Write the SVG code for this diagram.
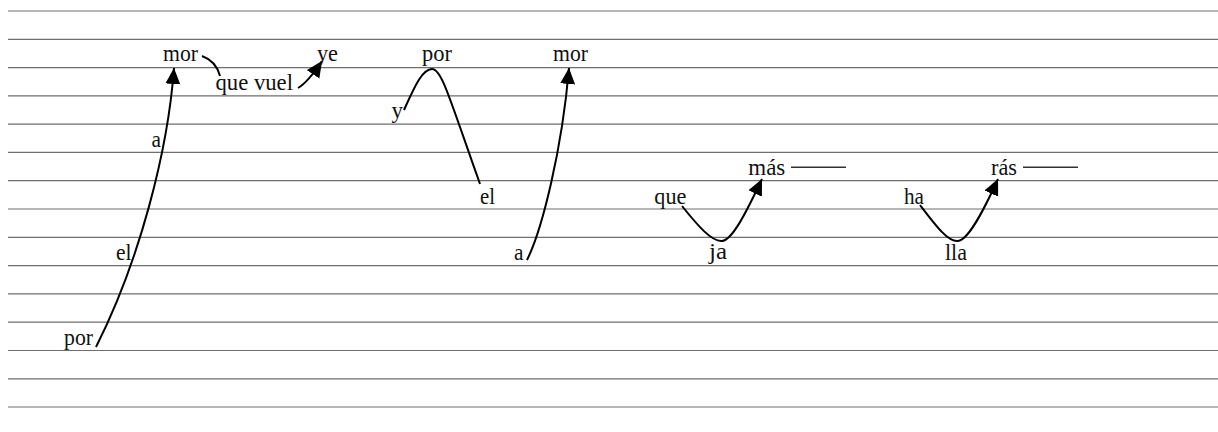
<svg xmlns="http://www.w3.org/2000/svg" width="1218" height="432" viewBox="0 0 1218 432">
<defs>
<style>
.staff line{stroke:#6e6e6e;stroke-width:1.2}
text{font-family:"Liberation Serif","Times New Roman",serif;font-size:24px;fill:#111}
.c{fill:none;stroke:#000;stroke-width:2}
.dash{stroke:#333;stroke-width:1.5}
</style>
<marker id="ah" markerUnits="userSpaceOnUse" markerWidth="18" markerHeight="16" refX="16" refY="7.5" orient="auto">
<path d="M0,0 L16,7.5 L0,15 z" fill="#000"/>
</marker>
</defs>
<rect width="1218" height="432" fill="#fff"/>
<g class="staff">
<line x1="8" y1="11" x2="1218" y2="11"/>
<line x1="8" y1="39.3" x2="1218" y2="39.3"/>
<line x1="8" y1="67.6" x2="1218" y2="67.6"/>
<line x1="8" y1="95.9" x2="1218" y2="95.9"/>
<line x1="8" y1="124.2" x2="1218" y2="124.2"/>
<line x1="8" y1="152.4" x2="1218" y2="152.4"/>
<line x1="8" y1="180.7" x2="1218" y2="180.7"/>
<line x1="8" y1="209" x2="1218" y2="209"/>
<line x1="8" y1="237.3" x2="1218" y2="237.3"/>
<line x1="8" y1="265.6" x2="1218" y2="265.6"/>
<line x1="8" y1="293.9" x2="1218" y2="293.9"/>
<line x1="8" y1="322.2" x2="1218" y2="322.2"/>
<line x1="8" y1="350.5" x2="1218" y2="350.5"/>
<line x1="8" y1="378.8" x2="1218" y2="378.8"/>
<line x1="8" y1="407" x2="1218" y2="407"/>
</g>
<g id="connectors">
<path class="c" d="M96,347 C140,260 168,150 174,68" marker-end="url(#ah)"/>
<path class="c" d="M202,56 Q216,61 220,76"/>
<path class="c" d="M298,88 C305,84 312,76 322,61" marker-end="url(#ah)"/>
<path class="c" d="M404,110 C414,88 422,69 432,69 C442,69 450,100 480,184"/>
<path class="c" d="M527,260 C542,230 562,150 569,68" marker-end="url(#ah)"/>
<path class="c" d="M682,206 C698,226 712,242 722,241 C732,240 745,215 762,179" marker-end="url(#ah)"/>
<path class="c" d="M920,205 C936,226 948,242 958,241 C968,240 982,214 998,179" marker-end="url(#ah)"/>
<line class="dash" x1="791" y1="167.3" x2="846" y2="167.3"/>
<line class="dash" x1="1023" y1="167.3" x2="1078" y2="167.3"/>
</g>
<g id="n-por1"><text x="64" y="345" textLength="29" lengthAdjust="spacingAndGlyphs">por</text></g>
<g id="n-el1"><text x="116" y="260" textLength="15.5" lengthAdjust="spacingAndGlyphs">el</text></g>
<g id="n-a1"><text x="151.5" y="147" textLength="9.5" lengthAdjust="spacingAndGlyphs">a</text></g>
<g id="n-mor1"><text x="163" y="61" textLength="35" lengthAdjust="spacingAndGlyphs">mor</text></g>
<g id="n-quevuel"><text x="215.5" y="90" textLength="77.5" lengthAdjust="spacingAndGlyphs">que vuel</text></g>
<g id="n-ye"><text x="317" y="61" textLength="21" lengthAdjust="spacingAndGlyphs">ye</text></g>
<g id="n-y"><text x="391.5" y="118" textLength="11.5" lengthAdjust="spacingAndGlyphs">y</text></g>
<g id="n-por2"><text x="422" y="61" textLength="30" lengthAdjust="spacingAndGlyphs">por</text></g>
<g id="n-el2"><text x="480" y="203.5" textLength="15" lengthAdjust="spacingAndGlyphs">el</text></g>
<g id="n-a2"><text x="514" y="260" textLength="9.5" lengthAdjust="spacingAndGlyphs">a</text></g>
<g id="n-mor2"><text x="553" y="61" textLength="35" lengthAdjust="spacingAndGlyphs">mor</text></g>
<g id="n-que2"><text x="654.3" y="204" textLength="32" lengthAdjust="spacingAndGlyphs">que</text></g>
<g id="n-ja"><text x="709" y="259" textLength="18" lengthAdjust="spacingAndGlyphs">ja</text></g>
<g id="n-mas"><text x="748.3" y="174.5" textLength="37" lengthAdjust="spacingAndGlyphs">más</text></g>
<g id="n-ha"><text x="904" y="204" textLength="20" lengthAdjust="spacingAndGlyphs">ha</text></g>
<g id="n-lla"><text x="945" y="260" textLength="22" lengthAdjust="spacingAndGlyphs">lla</text></g>
<g id="n-ras"><text x="991" y="174.5" textLength="26" lengthAdjust="spacingAndGlyphs">rás</text></g>
</svg>
